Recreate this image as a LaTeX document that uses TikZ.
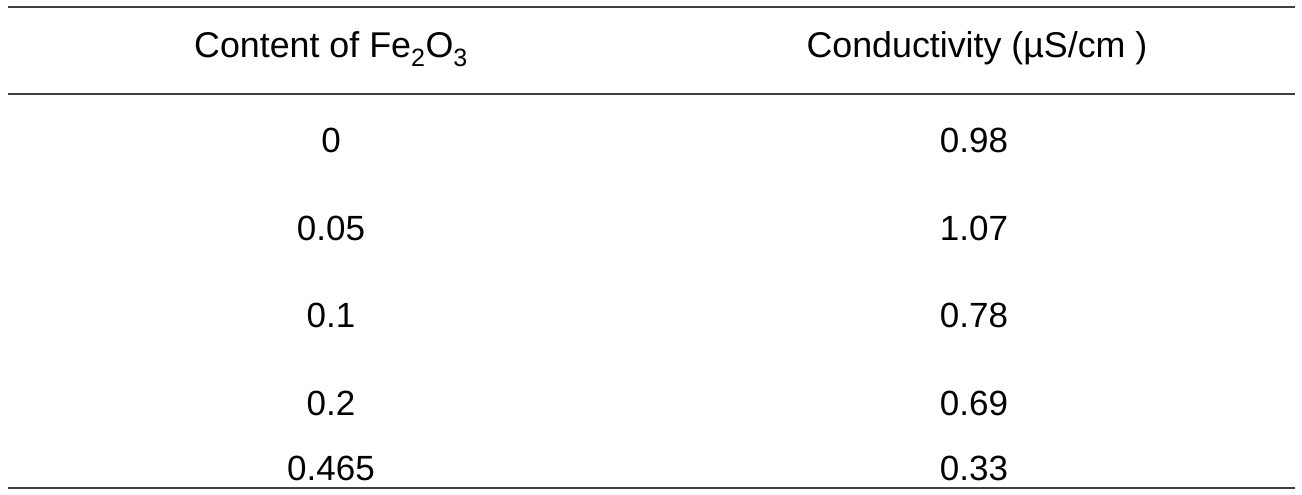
\documentclass[tikz,border=0pt]{standalone}
\usepackage{fontspec}
\setmainfont{Liberation Sans}
\begin{document}
\begin{tikzpicture}[x=1pt,y=-1pt,
  cell/.style={anchor=base,inner sep=0pt,font=\fontsize{35}{40}\selectfont},
  headcell/.style={cell,font=\fontsize{35.8}{40}\selectfont},
  rule/.style={line width=2.6pt,draw=black!75}]
\useasboundingbox (0,0) rectangle (1302,495);
\coordinate (t1) at (8,7);   \coordinate (t2) at (1295,7);
\coordinate (m1) at (8,94);  \coordinate (m2) at (1295,94);
\coordinate (b1) at (8,488); \coordinate (b2) at (1295,488);
\draw[rule] (t1) -- (t2);
\draw[rule] (m1) -- (m2);
\draw[rule] (b1) -- (b2);
\node[headcell] (h1) at (331,58) {Content of Fe\textsubscript{2}O\textsubscript{3}};
\node[headcell] (h2) at (977,58) {Conductivity (µS/cm )};
\node[cell] (a1) at (331,152) {0};
\node[cell] (b1n) at (974,152) {0.98};
\node[cell] (a2) at (331,240) {0.05};
\node[cell] (b2n) at (974,240) {1.07};
\node[cell] (a3) at (331,327) {0.1};
\node[cell] (b3n) at (974,327) {0.78};
\node[cell] (a4) at (331,415) {0.2};
\node[cell] (b4n) at (974,415) {0.69};
\node[cell] (a5) at (331,480) {0.465};
\node[cell] (b5n) at (974,480) {0.33};
\end{tikzpicture}
\end{document}
